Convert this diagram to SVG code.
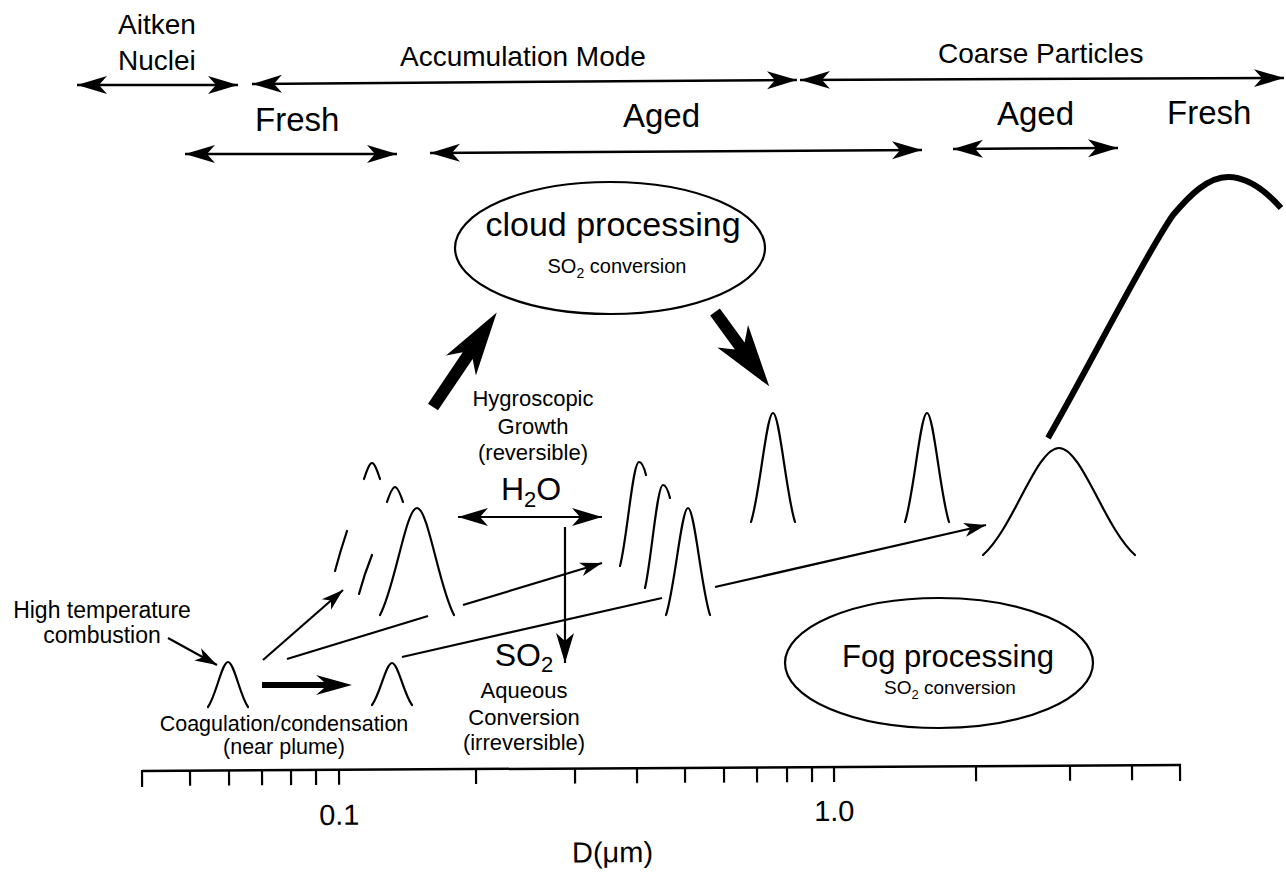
<svg xmlns="http://www.w3.org/2000/svg" width="1286" height="875" viewBox="0 0 1286 875">
  <style>
    .t { font-family: "Liberation Sans", Arial, Helvetica, sans-serif; fill: #000; }
    .ln { stroke: #000; fill: none; stroke-width: 2.2; }
    .band { stroke: #000; fill: none; stroke-width: 2.5; }
    .pk { stroke: #000; fill: none; stroke-width: 2.2; stroke-linecap: round; }
    .thick { fill: #000; stroke: none; }
  </style>
  <defs>
    <!-- barbed arrowheads: large for range bands, small for growth paths -->
    <marker id="hd" markerUnits="userSpaceOnUse" markerWidth="32" markerHeight="20" viewBox="0 0 32 20" refX="30" refY="10" orient="auto-start-reverse">
      <path d="M30,10 L0,1 L8,10 L0,19 Z" fill="#000"/>
    </marker>
    <marker id="hs" markerUnits="userSpaceOnUse" markerWidth="24" markerHeight="16" viewBox="0 0 24 16" refX="22" refY="8" orient="auto-start-reverse">
      <path d="M22,8 L0,1 L6,8 L0,15 Z" fill="#000"/>
    </marker>
  </defs>
  <rect width="1286" height="875" fill="#fff"/>

  <!-- size-range bands along the top -->
  <g id="bands">
    <text class="t" x="118" y="34" font-size="28">Aitken</text>
    <text class="t" x="118" y="70" font-size="28">Nuclei</text>
    <text class="t" x="400" y="66" font-size="28">Accumulation Mode</text>
    <text class="t" x="938" y="63" font-size="28">Coarse Particles</text>
    <text class="t" x="255" y="131" font-size="33">Fresh</text>
    <text class="t" x="623" y="127" font-size="33">Aged</text>
    <text class="t" x="997" y="125" font-size="33">Aged</text>
    <text class="t" x="1167" y="124" font-size="33">Fresh</text>
    <line class="band" x1="77" y1="85" x2="238" y2="85" marker-start="url(#hd)" marker-end="url(#hd)"/>
    <line class="band" x1="252" y1="84" x2="797" y2="80" marker-start="url(#hd)" marker-end="url(#hd)"/>
    <line class="band" x1="800" y1="80" x2="1284" y2="78" marker-start="url(#hd)" marker-end="url(#hd)"/>
    <line class="band" x1="185" y1="154" x2="397" y2="154" marker-start="url(#hd)" marker-end="url(#hd)"/>
    <line class="band" x1="430" y1="153" x2="922" y2="150" marker-start="url(#hd)" marker-end="url(#hd)"/>
    <line class="band" x1="953" y1="149" x2="1118" y2="148" marker-start="url(#hd)" marker-end="url(#hd)"/>
  </g>

  <!-- cloud processing -->
  <g id="cloud">
    <ellipse class="ln" cx="610" cy="248" rx="155" ry="66"/>
    <text class="t" x="613" y="236" font-size="34" text-anchor="middle">cloud processing</text>
    <text class="t" x="617" y="273" font-size="20" text-anchor="middle">SO<tspan font-size="14" dy="5">2</tspan><tspan dy="-5"> conversion</tspan></text>
  </g>

  <!-- fog processing -->
  <g id="fog">
    <ellipse class="ln" cx="939" cy="663" rx="154" ry="65"/>
    <text class="t" x="948" y="667" font-size="31" text-anchor="middle">Fog processing</text>
    <text class="t" x="950" y="694" font-size="19" text-anchor="middle">SO<tspan font-size="13" dy="5">2</tspan><tspan dy="-5"> conversion</tspan></text>
  </g>

  <!-- size distribution modes -->
  <g id="modes">
    <path id="mode-source" class="pk" d="M208,707 C216,695.75 222,662 228,662 C234,662 240,695.75 248,707"/>
    <path id="mode-condensed" class="pk" d="M372,705 C380,694.5 386,663 392,663 C398,663 404,694.5 412,705"/>
    <path id="mode-fresh" class="pk" d="M380,615 C394.8,588.25 405.9,508 417,508 C428.1,508 439.2,588.25 454,615"/>
    <g id="mode-fresh-grown">
      <path class="pk" d="M364,479 C367,470 369.5,463 372,463 C374.5,463 377,470 380,479"/>
      <path class="pk" d="M335,571 Q340,552 347,531"/>
      <path class="pk" d="M387,502 C390,493 392.5,487 395,487 C397.5,487 400,493 403,502"/>
      <path class="pk" d="M359,594 Q364,575 372,555"/>
    </g>
    <path id="mode-aged" class="pk" d="M666,615 C674.8,588.25 681.4,508 688,508 C694.6,508 701.2,588.25 710,615"/>
    <g id="mode-aged-grown">
      <path class="pk" d="M620,566 C627,540 632.6,462 639,462 C642,462 644,467 646,475"/>
      <path class="pk" d="M645,588 C651,563 657,485 663,485 C666,485 668,490 670,498"/>
    </g>
    <path id="mode-cloud" class="pk" d="M751,522 C759.8,494.75 766.4,413 773,413 C779.6,413 786.2,494.75 795,522"/>
    <path id="mode-fog" class="pk" d="M905,522 C913.8,494.75 920.4,413 927,413 C933.6,413 940.2,494.75 949,522"/>
    <path id="mode-coarse-aged" class="pk" d="M983,555 C1013.4,528.25 1036.2,448 1059,448 C1081.8,448 1104.6,528.25 1135,555"/>
    <path id="mode-coarse-fresh" fill="none" stroke="#000" stroke-width="6" d="M1048,438 C1090,365 1145,255 1173,215 C1190,195 1208,177 1228,177 C1248,177 1265,190 1281,208"/>
  </g>

  <!-- transformation paths -->
  <g id="connectors">
    <line class="ln" x1="168" y1="638" x2="217" y2="665" marker-end="url(#hs)"/>
    <line class="ln" x1="263" y1="660" x2="343" y2="590" marker-end="url(#hs)"/>
    <line class="ln" x1="287" y1="659" x2="428" y2="616"/>
    <line class="ln" x1="463" y1="605" x2="602" y2="563" marker-end="url(#hs)"/>
    <line class="ln" x1="402" y1="657" x2="662" y2="598"/>
    <line class="ln" x1="715" y1="587" x2="986" y2="525" marker-end="url(#hs)"/>
    <line class="ln" x1="458" y1="517" x2="602" y2="517" marker-start="url(#hd)" marker-end="url(#hd)"/>
    <line class="ln" x1="565" y1="527" x2="565" y2="663" marker-end="url(#hd)"/>
    <path class="thick" d="M262,682 L324,682 L316,675 L352,685 L316,695 L324,688 L262,688 Z"/>
    <path class="thick" transform="translate(433,407) rotate(-56)" d="M0,-6 L62,-6 L50,-18 L114,0 L50,18 L62,6 L0,6 Z"/>
    <path class="thick" transform="translate(715,312) rotate(53.9)" d="M0,-6 L42,-6 L30,-19 L92,0 L30,19 L42,6 L0,6 Z"/>
  </g>

  <!-- process labels -->
  <g id="labels">
    <text class="t" x="102" y="618" font-size="23" text-anchor="middle">High temperature</text>
    <text class="t" x="102" y="643" font-size="23" text-anchor="middle">combustion</text>
    <text class="t" x="284" y="731" font-size="21.5" text-anchor="middle">Coagulation/condensation</text>
    <text class="t" x="284" y="754" font-size="21.5" text-anchor="middle">(near plume)</text>
    <text class="t" x="533" y="406" font-size="22" text-anchor="middle">Hygroscopic</text>
    <text class="t" x="533" y="434" font-size="22" text-anchor="middle">Growth</text>
    <text class="t" x="533" y="460" font-size="22" text-anchor="middle">(reversible)</text>
    <text class="t" x="531" y="500" font-size="32" text-anchor="middle">H<tspan font-size="22" dy="7">2</tspan><tspan dy="-7">O</tspan></text>
    <text class="t" x="524" y="666" font-size="32" text-anchor="middle">SO<tspan font-size="22" dy="6">2</tspan></text>
    <text class="t" x="524" y="698" font-size="22" text-anchor="middle">Aqueous</text>
    <text class="t" x="524" y="725" font-size="22" text-anchor="middle">Conversion</text>
    <text class="t" x="524" y="750" font-size="22" text-anchor="middle">(irreversible)</text>
  </g>

  <!-- logarithmic diameter axis -->
  <g id="axis" transform="rotate(-0.33 660 768)">
    <line x1="142" y1="768" x2="1181" y2="768" stroke="#000" stroke-width="2.5"/>
    <path stroke="#000" stroke-width="2.2" fill="none" d="M142,767 V784 M190,768 V783 M229,768 V783 M262,768 V783 M291,768 V783 M316,768 V783 M339,768 V783 M476,768 V783 M575,768 V783 M637,768 V783 M685,768 V783 M724,768 V783 M757,768 V783 M787,768 V783 M812,768 V783 M834,768 V783 M976,768 V783 M1070,768 V783 M1132,768 V783 M1180,767 V784"/>
    <text class="t" x="339" y="823" font-size="29" text-anchor="middle">0.1</text>
    <text class="t" x="834" y="822" font-size="29" text-anchor="middle">1.0</text>
    <text class="t" x="612" y="862" font-size="29" text-anchor="middle">D(μm)</text>
  </g>
</svg>
